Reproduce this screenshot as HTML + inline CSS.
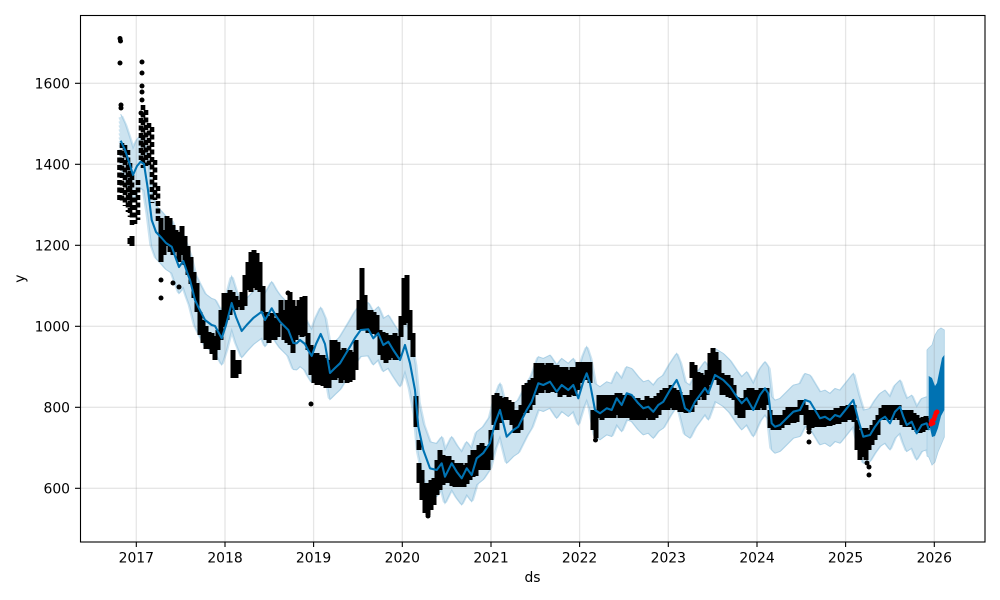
<!DOCTYPE html>
<html>
<head>
<meta charset="utf-8">
<style>
  html,body{margin:0;padding:0;background:#fff;}
  svg{display:block;}
  text{font-family:"DejaVu Sans","Liberation Sans",sans-serif;font-size:13.9px;fill:#000;}
</style>
</head>
<body>
<svg width="1000" height="600" viewBox="0 0 1000 600" xmlns="http://www.w3.org/2000/svg" xmlns:xlink="http://www.w3.org/1999/xlink">
  <rect x="0" y="0" width="1000" height="600" fill="#fff"/>
  <defs>
    <path id="yh" fill="none" d="M120.7,140.7 L125,150 130,165 133,175 137,166 140.7,161.7 144,164 148,190 151.7,220 156,232 161.7,238 166,243 171.7,246.7 175,256 179,267 183.3,261 187,272 190,280 195,300 198.3,307 205,320 211.7,325 215,326 221.7,338.3 226,325 231.7,303 236,317 241.7,331 246.7,325 253.3,318 261.7,311.7 265,320 271.7,308.3 276,316 280,321.7 288.3,330 293.3,343 296.7,343.3 300,340 305,344 308,350 311.7,356 316,344 320.7,334 325,344 330,373 335,368 340,363.3 345,355 350,346.7 355,338 360.7,330 368.3,329.3 373.3,338.3 378.3,333.3 383.3,345 388.3,341.7 393.3,350 400,360 405,345 410,363.3 415,390 418.3,426.7 423.3,450 430,468.3 436.7,470 441.7,463.3 445,476.7 451.7,463.3 456.7,471.7 461.7,478.3 466.7,468.3 471.7,475 476.7,458.3 483.3,453 490,443 495,423.3 500,410 506.7,436.7 513.3,430 518.3,426.7 526.7,410 531.7,401.7 538.3,383.3 543.3,385 550,381.7 556.7,391.7 561.7,385 568.3,390 573.3,385 578.3,398.3 583.3,381.7 586.7,373.3 590,383.3 595,410 600,413.3 606.7,408.3 611.7,410 616.7,398.3 621.7,405 626.7,393.3 631.7,395 638.3,403.3 643.3,408.3 648.3,406.7 653.3,411.7 658.3,405 663.3,401.7 670,390 676.7,380 680,388.3 685,408.3 690,411.7 695,401.7 700,395 705,388 708.3,393.3 715,375 723.3,380 730,386.7 736.7,396.7 741.7,403.3 746.7,398.3 753.3,410 760,395 765,388.3 768.3,393.3 771.7,423.3 775,426.7 780,425 786.7,418.3 793.3,411.7 800,410 805,400 810,401.7 815,410 820,418.3 825,416.7 830,420 835,415 840,416.7 846.7,408.3 853.3,400 858.3,420 863.3,436.7 870,435 875,426.7 880,420 885,416.7 890,423.3 895,411.7 900,406.7 903.3,416.7 906.7,425 911.7,421.7 916.7,433.3 921.7,425 926.7,423.3 929,430"/>
  </defs>

  <!-- uncertainty band -->
  <g stroke="#cce3f0" stroke-width="5" fill="none" stroke-linejoin="round">
    <use href="#yh" xlink:href="#yh" transform="translate(0,-24)"/>
    <use href="#yh" xlink:href="#yh" transform="translate(0,-20)"/>
    <use href="#yh" xlink:href="#yh" transform="translate(0,-16)"/>
    <use href="#yh" xlink:href="#yh" transform="translate(0,-12)"/>
    <use href="#yh" xlink:href="#yh" transform="translate(0,-8)"/>
    <use href="#yh" xlink:href="#yh" transform="translate(0,-4)"/>
    <use href="#yh" xlink:href="#yh" transform="translate(0,0)"/>
    <use href="#yh" xlink:href="#yh" transform="translate(0,4)"/>
    <use href="#yh" xlink:href="#yh" transform="translate(0,8)"/>
    <use href="#yh" xlink:href="#yh" transform="translate(0,12)"/>
    <use href="#yh" xlink:href="#yh" transform="translate(0,16)"/>
    <use href="#yh" xlink:href="#yh" transform="translate(0,20)"/>
    <use href="#yh" xlink:href="#yh" transform="translate(0,24)"/>
  </g>
  <g stroke="#a9cfe5" stroke-width="1" fill="none">
    <use href="#yh" xlink:href="#yh" transform="translate(0,-26.5)"/>
    <use href="#yh" xlink:href="#yh" transform="translate(0,26.5)"/>
  </g>
  <!-- forecast band -->
  <polygon fill="#c4dfee" stroke="#a9cfe5" stroke-width="0.8" points="927,350 928.7,348 932,345 935,335 938,330 941,328 944.3,330 944.3,437 941,445 938,452 935,462 932,465 928.7,457 927,456"/>

  <!-- grid -->
  <g stroke="#808080" stroke-opacity="0.2" stroke-width="1.3">
    <line x1="136.3" y1="15" x2="136.3" y2="542"/>
    <line x1="225" y1="15" x2="225" y2="542"/>
    <line x1="313.6" y1="15" x2="313.6" y2="542"/>
    <line x1="402.3" y1="15" x2="402.3" y2="542"/>
    <line x1="491" y1="15" x2="491" y2="542"/>
    <line x1="579.6" y1="15" x2="579.6" y2="542"/>
    <line x1="668.3" y1="15" x2="668.3" y2="542"/>
    <line x1="757" y1="15" x2="757" y2="542"/>
    <line x1="845.6" y1="15" x2="845.6" y2="542"/>
    <line x1="934.3" y1="15" x2="934.3" y2="542"/>
    <line x1="80" y1="488.3" x2="985" y2="488.3"/>
    <line x1="80" y1="407.3" x2="985" y2="407.3"/>
    <line x1="80" y1="326.3" x2="985" y2="326.3"/>
    <line x1="80" y1="245.3" x2="985" y2="245.3"/>
    <line x1="80" y1="164.3" x2="985" y2="164.3"/>
    <line x1="80" y1="83.3" x2="985" y2="83.3"/>
  </g>

  <!-- observed data cloud: sparse early part -->
  <path fill="none" stroke="#000" stroke-width="4.6" stroke-linecap="butt" stroke-dasharray="5 2.5" d="M119.5,150V200 M122,143V202 M125,145V206 M128,150V212 M130,163V217 M132,175V226 M135,190V224 M138,180V220 M141,118V160 M143,105V168 M146,110V166 M149,123V165 M152,127V203 M155,160V200 M158,186V222"/>
  <!-- observed data cloud: dense part -->
  <path fill="none" stroke="#000" stroke-width="5" stroke-linecap="butt" d="M130,238V244 M132,236V246 M161,218V262 M164,230V255 M167,216V246 M170,218V252 M173,225V255 M176,230V252 M179,232V262 M182,226V255 M185,236V265 M188,246V275 M191,257V284 M194,272V298 M197,283V312 M200,312V335 M203,320V343 M206,326V349 M209,332V349 M212,333V354 M215,336V360 M218,330V350 M221,310V340 M224,293V327 M227,293V320 M230,290V315 M233,292V310 M233,350V378 M236,296V310 M236,360V378 M239,300V307 M239,360V374 M242,292V310 M245,275V306 M248,262V290 M251,252V292 M254,250V288 M257,253V290 M260,262V292 M263,286V312 M266,312V340 M269,316V343 M272,313V340 M275,318V340 M278,313V337 M281,300V322 M284,310V340 M287,300V343 M290,292V345 M293,300V353 M296,306V340 M299,300V335 M302,297V337 M305,296V336 M308,333V350 M311,345V375 M314,353V383 M317,353V385 M320,355V385 M323,355V386 M326,358V388 M329,360V388 M332,340V380 M335,340V380 M338,342V378 M341,350V383 M344,348V380 M347,350V383 M350,350V382 M353,352V380 M356,340V370 M359,300V330 M362,268V330 M365,295V330 M368,310V333 M371,310V333 M374,312V334 M377,315V336 M380,330V355 M383,332V360 M386,333V363 M389,335V360 M392,335V358 M395,333V360 M398,336V360 M401,316V337 M404,278V325 M407,275V323 M410,310V340 M413,333V357 M416,396V427 M419,440V450 M419,463V483 M422,470V500 M425,483V513 M428,483V515 M431,480V510 M434,478V505 M437,460V495 M440,450V490 M443,455V485 M446,456V483 M449,456V483 M452,460V486 M455,463V487 M458,463V487 M461,463V487 M464,465V487 M467,463V484 M470,455V480 M473,450V477 M476,450V476 M479,445V470 M482,443V470 M485,446V470 M488,447V470 M491,430V460 M494,395V425 M497,393V430 M500,396V423 M503,398V420 M506,397V420 M509,400V420 M512,402V425 M515,410V433 M518,410V433 M521,405V430 M524,385V413 M527,383V413 M530,380V410 M533,378V405 M536,363V395 M539,363V393 M542,363V393 M545,365V390 M548,363V393 M551,363V392 M554,365V392 M557,365V393 M560,367V397 M563,367V395 M566,367V395 M569,370V397 M572,367V395 M575,367V396 M578,362V390 M581,362V383 M584,362V380 M587,362V380 M590,362V383 M593,410V430 M596,410V438 M599,395V418 M602,395V420 M605,395V418 M608,395V418 M611,395V418 M614,395V418 M617,393V415 M620,393V418 M623,395V418 M626,395V418 M629,395V418 M632,396V420 M635,398V420 M638,398V420 M641,400V420 M644,400V420 M647,396V418 M650,398V420 M653,398V420 M656,396V418 M659,393V415 M662,390V410 M665,388V410 M668,388V410 M671,385V408 M674,388V410 M677,390V410 M680,392V412 M683,395V412 M686,395V413 M689,395V412 M692,362V378 M692,390V412 M695,365V405 M698,372V400 M701,373V397 M704,375V400 M707,370V395 M710,353V385 M713,348V380 M716,352V380 M719,360V385 M722,373V395 M725,375V395 M728,375V397 M731,378V398 M734,385V400 M737,397V415 M740,398V418 M743,398V418 M746,390V410 M749,388V410 M752,388V410 M755,390V410 M758,390V410 M761,388V408 M764,388V410 M767,388V405 M770,410V428 M773,415V430 M776,415V430 M779,415V430 M782,415V428 M785,410V425 M788,407V425 M791,407V423 M794,407V423 M797,407V422 M800,400V415 M803,400V415 M806,405V425 M809,410V430 M812,410V428 M815,410V427 M818,410V427 M821,410V427 M824,410V427 M827,410V426 M830,410V426 M833,410V425 M836,408V424 M839,408V424 M842,406V422 M845,406V422 M848,405V420 M851,405V420 M854,405V422 M857,420V450 M860,430V460 M863,428V457 M866,428V460 M869,430V450 M872,425V445 M875,420V440 M878,415V435 M881,408V420 M884,405V420 M887,405V420 M890,405V420 M893,405V420 M896,405V418 M899,405V420 M902,410V425 M905,410V427 M908,410V427 M911,410V427 M914,413V430 M917,415V432 M920,418V433 M923,417V432 M926,416V430 M929,418V428"/>
  <g fill="#000">
    <circle cx="120" cy="38.5" r="2.5"/>
    <circle cx="120.5" cy="41" r="2.5"/>
    <circle cx="120" cy="63" r="2.5"/>
    <circle cx="121" cy="105" r="2.5"/>
    <circle cx="121" cy="108" r="2.5"/>
    <circle cx="142" cy="62" r="2.5"/>
    <circle cx="142" cy="73" r="2.5"/>
    <circle cx="142" cy="86" r="2.5"/>
    <circle cx="142" cy="92" r="2.5"/>
    <circle cx="142" cy="100" r="2.5"/>
    <circle cx="141" cy="113" r="2.5"/>
    <circle cx="161" cy="280" r="2.5"/>
    <circle cx="161" cy="298" r="2.5"/>
    <circle cx="173" cy="283" r="2.5"/>
    <circle cx="179" cy="287" r="2.5"/>
    <circle cx="288" cy="293" r="2.5"/>
    <circle cx="311" cy="404" r="2.5"/>
    <circle cx="428" cy="516" r="2.5"/>
    <circle cx="595.5" cy="440" r="2.5"/>
    <circle cx="809" cy="432" r="2.5"/>
    <circle cx="809" cy="442" r="2.5"/>
    <circle cx="867" cy="463" r="2.5"/>
    <circle cx="869" cy="467" r="2.5"/>
    <circle cx="869" cy="475" r="2.5"/>
  </g>

  <!-- forecast line -->
  <use href="#yh" xlink:href="#yh" stroke="#0072B2" stroke-width="2.1" fill="none" stroke-linejoin="round"/>
  <polygon fill="#0072B2" points="928.7,376 932,378 935,386 937,383 940,368 942,358 944.3,355 944.3,410 941,416 938,428 935,436 932,437 930,428 928.7,421"/>

  <!-- recent points -->
  <g fill="#ff0000">
    <circle cx="931" cy="424" r="2.5"/>
    <circle cx="932" cy="421" r="2.5"/>
    <circle cx="933" cy="423" r="2.5"/>
    <circle cx="934" cy="419" r="2.5"/>
    <circle cx="935" cy="416" r="2.5"/>
    <circle cx="936" cy="413" r="2.5"/>
    <circle cx="937" cy="412" r="2.5"/>
  </g>

  <!-- frame -->
  <rect x="80.5" y="15.5" width="904.5" height="526.5" fill="none" stroke="#000" stroke-width="1.1"/>

  <!-- ticks -->
  <g stroke="#000" stroke-width="1.1">
    <line x1="136.3" y1="542" x2="136.3" y2="547"/>
    <line x1="225" y1="542" x2="225" y2="547"/>
    <line x1="313.6" y1="542" x2="313.6" y2="547"/>
    <line x1="402.3" y1="542" x2="402.3" y2="547"/>
    <line x1="491" y1="542" x2="491" y2="547"/>
    <line x1="579.6" y1="542" x2="579.6" y2="547"/>
    <line x1="668.3" y1="542" x2="668.3" y2="547"/>
    <line x1="757" y1="542" x2="757" y2="547"/>
    <line x1="845.6" y1="542" x2="845.6" y2="547"/>
    <line x1="934.3" y1="542" x2="934.3" y2="547"/>
    <line x1="75" y1="488.3" x2="80" y2="488.3"/>
    <line x1="75" y1="407.3" x2="80" y2="407.3"/>
    <line x1="75" y1="326.3" x2="80" y2="326.3"/>
    <line x1="75" y1="245.3" x2="80" y2="245.3"/>
    <line x1="75" y1="164.3" x2="80" y2="164.3"/>
    <line x1="75" y1="83.3" x2="80" y2="83.3"/>
  </g>

  <!-- tick labels -->
  <g text-anchor="middle">
    <text x="136.3" y="562.5">2017</text>
    <text x="225" y="562.5">2018</text>
    <text x="313.6" y="562.5">2019</text>
    <text x="402.3" y="562.5">2020</text>
    <text x="491" y="562.5">2021</text>
    <text x="579.6" y="562.5">2022</text>
    <text x="668.3" y="562.5">2023</text>
    <text x="757" y="562.5">2024</text>
    <text x="845.6" y="562.5">2025</text>
    <text x="934.3" y="562.5">2026</text>
  </g>
  <g text-anchor="end">
    <text x="70" y="493.3">600</text>
    <text x="70" y="412.3">800</text>
    <text x="70" y="331.3">1000</text>
    <text x="70" y="250.3">1200</text>
    <text x="70" y="169.3">1400</text>
    <text x="70" y="88.3">1600</text>
  </g>

  <!-- axis labels -->
  <text x="532.5" y="582" text-anchor="middle">ds</text>
  <text transform="translate(24.3,278.7) rotate(-90)" text-anchor="middle">y</text>
</svg>
</body>
</html>
